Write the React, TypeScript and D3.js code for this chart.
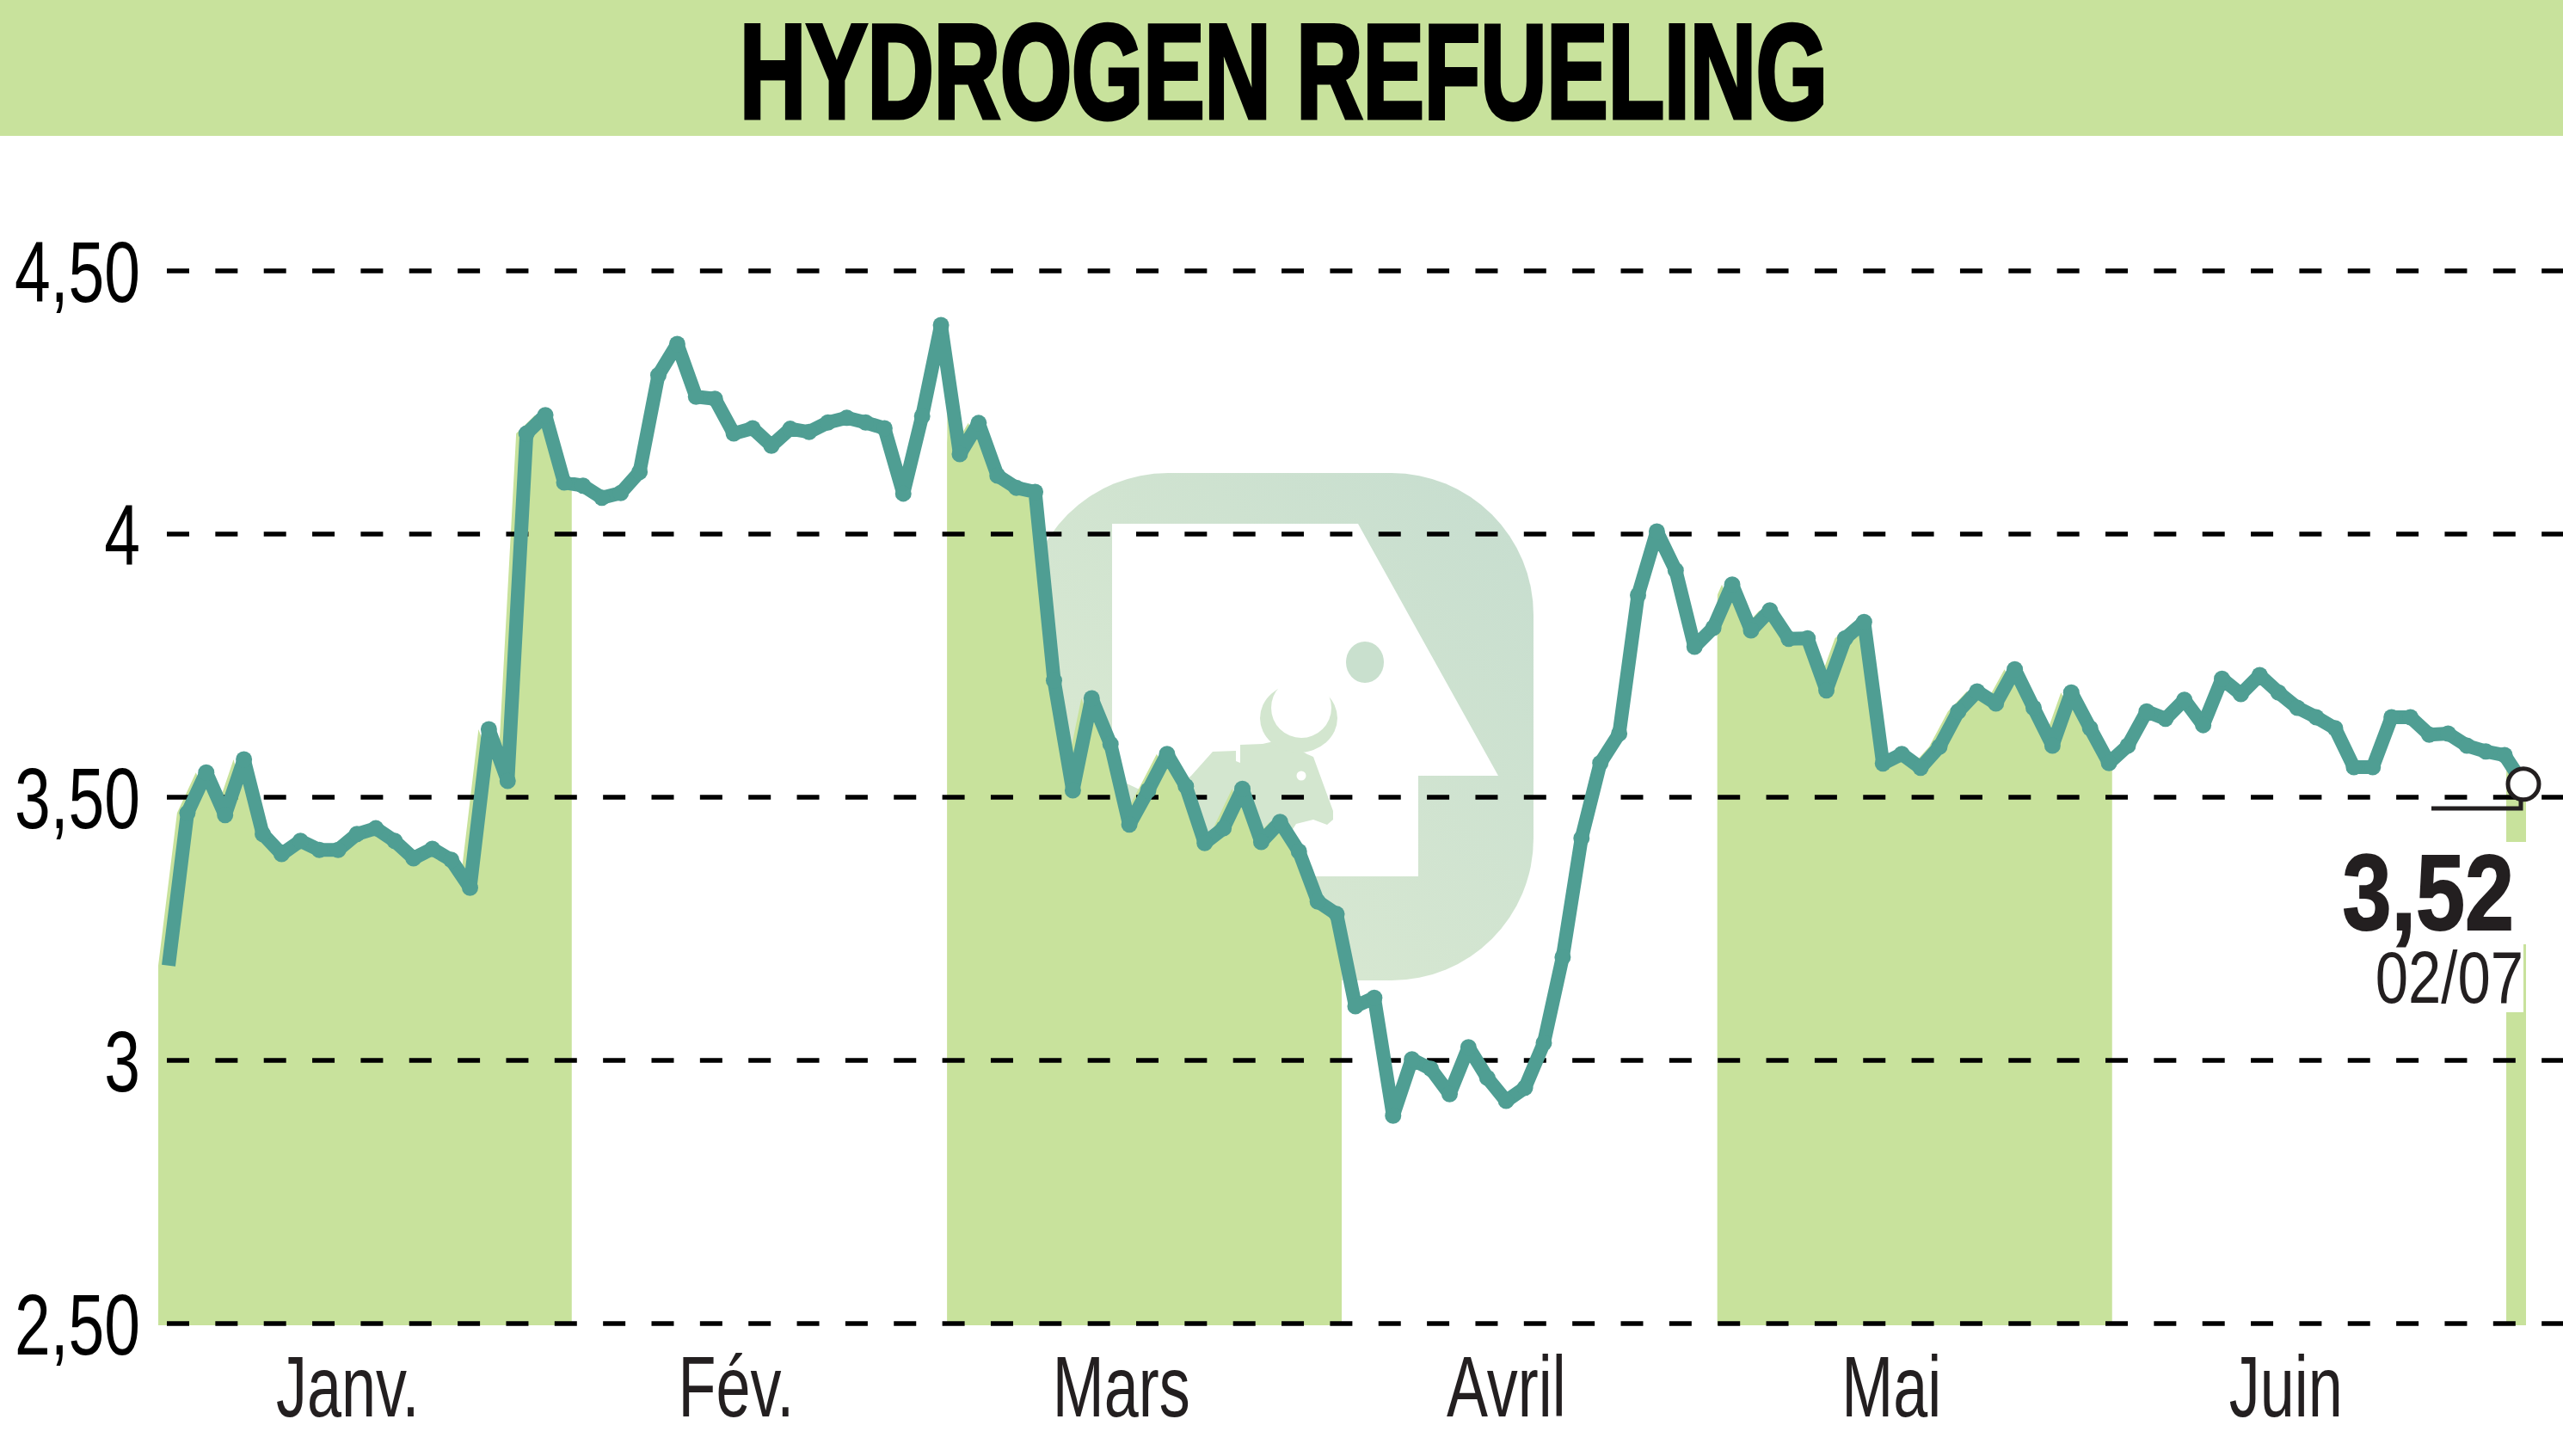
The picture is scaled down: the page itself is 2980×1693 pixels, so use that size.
import React from 'react';
import * as d3 from 'd3';

const title = 'HYDROGEN REFUELING';

// closing prices, one list per month
const janv = [3.18, 3.47, 3.547, 3.466, 3.572, 3.43, 3.392, 3.417, 3.4, 3.4, 3.43, 3.441, 3.417, 3.384, 3.402, 3.381, 3.328, 3.629, 3.531, 4.191, 4.226, 4.098];
const fev = [4.092, 4.069, 4.078, 4.118, 4.302, 4.361, 4.261, 4.257, 4.191, 4.201, 4.168, 4.2, 4.194, 4.212, 4.221, 4.212, 4.201, 4.077, 4.224, 4.397];
const mars = [4.152, 4.211, 4.111, 4.088, 4.08, 3.722, 3.513, 3.688, 3.601, 3.448, 3.513, 3.582, 3.521, 3.413, 3.441, 3.516, 3.415, 3.453, 3.397, 3.302, 3.278];
const avril = [3.103, 3.119, 2.895, 3.002, 2.984, 2.936, 3.025, 2.967, 2.923, 2.948, 3.033, 3.196, 3.422, 3.565, 3.621, 3.884, 4.005, 3.931, 3.786, 3.822];
const mai = [3.904, 3.817, 3.855, 3.801, 3.802, 3.703, 3.802, 3.833, 3.564, 3.582, 3.556, 3.596, 3.663, 3.701, 3.678, 3.743, 3.67, 3.598, 3.699, 3.631, 3.565];
const juin = [3.598, 3.663, 3.649, 3.685, 3.637, 3.725, 3.696, 3.732, 3.699, 3.67, 3.652, 3.631, 3.557, 3.557, 3.652, 3.652, 3.619, 3.621, 3.598, 3.587, 3.58];
const juil = [3.525];

const monthSeries = [janv, fev, mars, avril, mai, juin, juil];
const monthLabels = ['Janv.', 'Fév.', 'Mars', 'Avril', 'Mai', 'Juin'];
const yTicks = [2.5, 3, 3.5, 4, 4.5];
const yTickLabels = ['2,50', '3', '3,50', '4', '4,50'];
const lastValue = '3,52';
const lastDate = '02/07';

const width = 2980;
const height = 1693;
const font = '"Liberation Sans", sans-serif';
const green = '#c8e29c';
const teal = '#4f9e93';
const ink = '#231f20';

// watermark outlines
const logoWhite = '1293,609 1579,609 1742,902 1649,902 1649,1019 1293,1019';
const logoBull =
    '1293,905 1310,911 1327,919 1345,935 1385,902 1410,874 1437,873 1437,885 1442,887 1442,866 1468,865 1490,860 1520,877 1527,880 1550,943 1550,953 1543,959 1527,953 1507,958 1480,1000 1293,1000';

const App = () => {
    const values = monthSeries.flat();
    const idx = d3.range(values.length);

    // the shading steps on its own grid, a bit to the left of the line
    const xLine = d3.scalePoint<number>().domain(idx).range([196, 2934]);
    const xBand = d3.scaleBand<number>().domain(idx).range([184, 2936]);
    const y = d3.scaleLinear().domain([2.5, 4.5]).range([1539, 315]);

    const line = d3
        .line<number>()
        .x((d, i) => xLine(i) as number)
        .y((d) => y(d));

    let start = 0;
    const months = monthSeries.map((m) => {
        const res = {start, end: start + m.length};
        start += m.length;
        return res;
    });

    const bandX = (i: number) => (i < values.length ? (xBand(i) as number) : 2937);
    const lineX = (i: number) => (i < values.length ? (xLine(i) as number) : 2960);
    const valueAt = (i: number) => values[Math.min(i, values.length - 1)];

    const areaFor = (dx: number) =>
        d3
            .area<number>()
            .x((i) => lineX(i) + dx)
            .y0(1541)
            .y1((i) => y(valueAt(i)));

    const shaded = months.filter((m, i) => i % 2 === 0);

    return (
        <svg
            width={width}
            height={height}
            viewBox={`0 0 ${width} ${height}`}
            style={{position: 'absolute', left: 0, top: 0, display: 'block', background: '#fff'}}
        >
            <defs>
                <linearGradient id="logo" x1="0" y1="1" x2="1" y2="0">
                    <stop offset="0" stopColor="#deecd2" />
                    <stop offset="1" stopColor="#c6ddcf" />
                </linearGradient>
                {shaded.map((m) => (
                    <clipPath key={m.start} id={`band${m.start}`}>
                        <rect x={bandX(m.start)} y={300} width={bandX(m.end) - bandX(m.start)} height={1300} />
                    </clipPath>
                ))}
            </defs>

            {/* title */}
            <rect x={0} y={0} width={width} height={158} fill={green} />
            <text
                x={860}
                y={137}
                fontFamily={font}
                fontWeight={700}
                fontSize={156}
                textLength={1265}
                lengthAdjust="spacingAndGlyphs"
                stroke="#000"
                strokeWidth={5}
                fill="#000"
            >
                {title}
            </text>

            {/* watermark */}
            <g>
                <rect x={1193} y={550} width={590} height={590} rx={165} fill="url(#logo)" />
                <polygon points={logoWhite} fill="#fff" />
                <polygon points={logoBull} fill="#d3e6cf" />
                <ellipse cx={1510} cy={835} rx={45} ry={40} fill="#d3e6cf" />
                <circle cx={1513} cy={823} r={35} fill="#fff" />
                <ellipse cx={1587} cy={770} rx={22} ry={24} fill="#c9e0ce" />
                <circle cx={1513} cy={902} r={5.5} fill="#fff" />
            </g>

            {/* shaded months */}
            {shaded.map((m) => {
                const r = d3.range(Math.max(m.start - 1, 0), m.end + 2);
                return (
                    <g key={m.start} clipPath={`url(#band${m.start})`} fill={green}>
                        <path d={areaFor(-12)(r) as string} />
                        <path d={areaFor(0)(r) as string} />
                    </g>
                );
            })}

            {/* grid */}
            {yTicks.map((t) => (
                <line
                    key={t}
                    x1={194}
                    x2={width}
                    y1={y(t)}
                    y2={y(t)}
                    stroke="#000"
                    strokeWidth={5.5}
                    strokeDasharray="26 30.35"
                />
            ))}

            {yTicks.map((t, i) => (
                <text
                    key={t}
                    transform={`translate(163,${y(t) + 36}) scale(0.75,1)`}
                    textAnchor="end"
                    fontFamily={font}
                    fontSize={100}
                    fill="#000"
                >
                    {yTickLabels[i]}
                </text>
            ))}

            {monthLabels.map((m, i) => {
                const x0 = bandX(months[i].start);
                const x1 = bandX(months[i].end);
                return (
                    <text
                        key={m}
                        transform={`translate(${(x0 + x1) / 2 - 27 + (i === 0 ? 7 : 0)},1647) scale(0.72,1)`}
                        textAnchor="middle"
                        fontFamily={font}
                        fontSize={100}
                        fill={ink}
                    >
                        {m}
                    </text>
                );
            })}

            {/* price line */}
            <path
                d={line(values) as string}
                fill="none"
                stroke={teal}
                strokeWidth={16}
                strokeLinejoin="round"
            />
            {values.slice(1).map((v, i) => (
                <circle key={i} cx={xLine(i + 1)} cy={y(v)} r={9.5} fill={teal} />
            ))}

            {/* last value */}
            <rect x={2700} y={979} width={240} height={119} fill="#fff" />
            <rect x={2740} y={1098} width={194} height={79} fill="#fff" />
            <path d="M2827,940H2931V925" fill="none" stroke={ink} strokeWidth={5} />
            <circle cx={xLine(values.length - 1)} cy={y(values[values.length - 1])} r={18} fill="#fff" stroke={ink} strokeWidth={5} />
            <text
                transform="translate(2923,1081) scale(0.82,1)"
                textAnchor="end"
                fontFamily={font}
                fontWeight={700}
                fontSize={125}
                stroke={ink}
                strokeWidth={2}
                fill={ink}
            >
                {lastValue}
            </text>
            <text transform="translate(2934,1166) scale(0.81,1)" textAnchor="end" fontFamily={font} fontSize={85} fill={ink}>
                {lastDate}
            </text>
        </svg>
    );
};

export default App;
